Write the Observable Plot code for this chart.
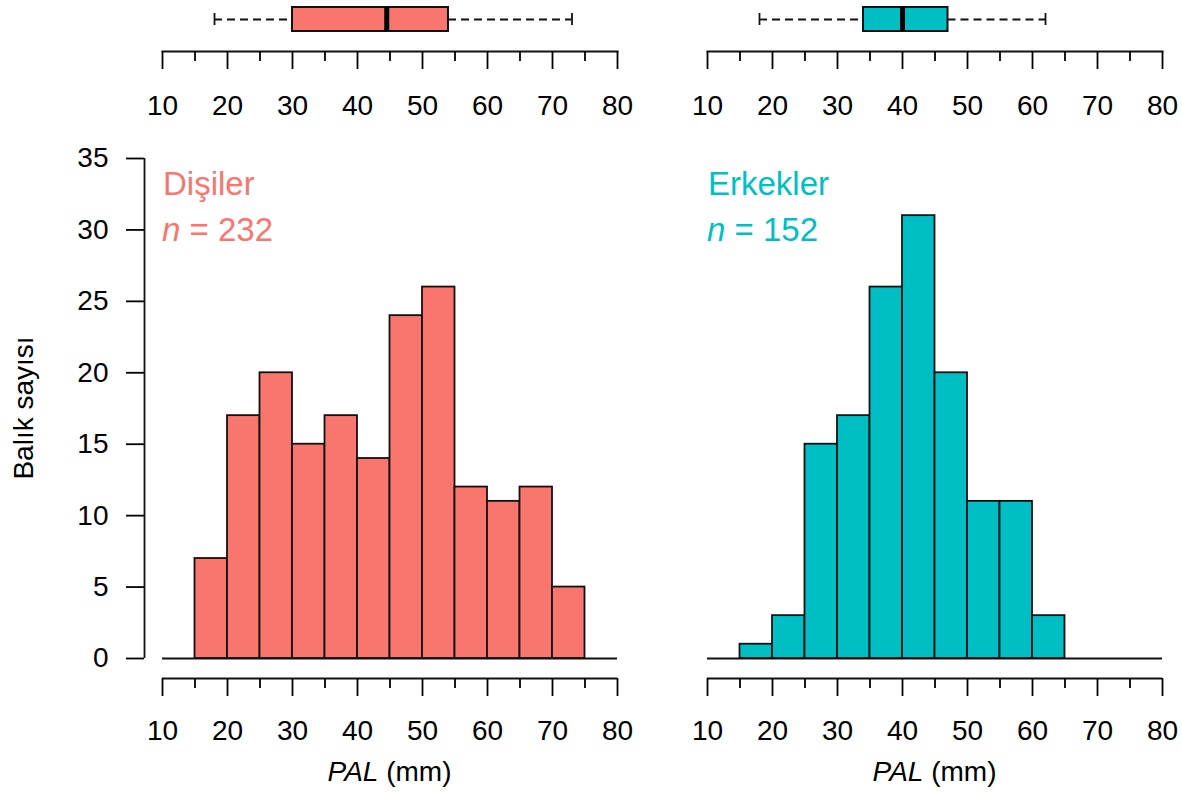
<!DOCTYPE html>
<html><head><meta charset="utf-8">
<script src="https://cdn.jsdelivr.net/npm/d3@7"></script>
<script src="https://cdn.jsdelivr.net/npm/@observablehq/plot@0.6"></script>
<style>
body{margin:0;background:#fff;overflow:hidden}
#chart{position:relative;width:1182px;height:793px;font-family:"Liberation Sans",Arial,sans-serif}
#chart svg{position:absolute;overflow:visible}
</style></head><body><div id="chart"></div>
<script>
// ---- data ----
const xMajorTicks = [10, 20, 30, 40, 50, 60, 70, 80];
const xMinorTicks = [15, 25, 35, 45, 55, 65, 75];
const yTicks = [0, 5, 10, 15, 20, 25, 30, 35];
const femaleBreaks = [15, 20, 25, 30, 35, 40, 45, 50, 55, 60, 65, 70, 75];
const femaleCounts = [7, 17, 20, 15, 17, 14, 24, 26, 12, 11, 12, 5];
const maleBreaks = [15, 20, 25, 30, 35, 40, 45, 50, 55, 60, 65];
const maleCounts = [1, 3, 15, 17, 26, 31, 20, 11, 11, 3];
// min whisker, Q1, median, Q3, max whisker
const femaleBox = [18, 30, 44.5, 54, 73];
const maleBox = [18, 34, 40, 47, 62];
const groupNames = ["Dişiler", "Erkekler"];
const groupN = [232, 152];
const groupColors = ["#F8766D", "#00BFC4"];
const xTitle = ["PAL", " (mm)"];
const yTitle = "Balık sayısı";

// ---- layout ----
const FONT = '"Liberation Sans", Arial, sans-serif';
const panelLeft = [0, 545];
const W = 637, MR = 20;
const TOP_H = 130, BOT_TOP = 130, BOT_H = 663;
const SW = 1.8;
const container = document.getElementById("chart");
const xDomain = [xMajorTicks[0], xMajorTicks[xMajorTicks.length - 1]];

function bins(breaks, counts) {
  return counts.map((c, i) => ({x1: breaks[i], x2: breaks[i + 1], count: c})).filter(d => d.count > 0);
}

function topPlot(box, color) {
  const row = {g: "box", min: box[0], q1: box[1], med: box[2], q3: box[3], max: box[4]};
  return Plot.plot({
    width: W, height: TOP_H,
    marginLeft: 162, marginRight: MR, marginTop: 7, marginBottom: 79, insetBottom: 20,
    style: {fontFamily: FONT, fontSize: "28px", color: "black", background: "transparent", overflow: "visible"},
    x: {domain: xDomain},
    y: {type: "band", domain: ["box"], padding: 0, axis: null},
    marks: [
      Plot.ruleY([row], {y: "g", x1: "min", x2: "q1", stroke: "#111", strokeWidth: SW, strokeDasharray: "8,5"}),
      Plot.ruleY([row], {y: "g", x1: "q3", x2: "max", stroke: "#111", strokeWidth: SW, strokeDasharray: "8,5"}),
      Plot.tickX([row.min, row.max], {x: d => d, y: () => "box", stroke: "#111", strokeWidth: SW, insetTop: 6, insetBottom: 6}),
      Plot.barX([row], {y: "g", x1: "q1", x2: "q3", fill: color, stroke: "#111", strokeWidth: 2}),
      Plot.tickX([row], {x: "med", y: "g", stroke: "black", strokeWidth: 5}),
      Plot.frame({anchor: "bottom", stroke: "#111", strokeWidth: SW}),
      Plot.axisX({ticks: xMajorTicks, tickSize: 18, tickPadding: 26, fontSize: 28, strokeWidth: SW, label: null}),
      Plot.axisX({ticks: xMinorTicks, tickSize: 10, tickFormat: () => "", strokeWidth: SW, label: null})
    ]
  });
}

function bottomPlot(breaks, counts, color, withY) {
  const data = bins(breaks, counts);
  const marks = [
    Plot.ruleY([0], {x1: xDomain[0], x2: xDomain[1], stroke: "#111", strokeWidth: SW}),
    Plot.rectY(data, {x1: "x1", x2: "x2", y: "count", fill: color, stroke: "#111", strokeWidth: SW}),
    Plot.ruleY([0], {x1: xDomain[0], x2: xDomain[1], dy: 20, stroke: "#111", strokeWidth: SW}),
    Plot.axisX({ticks: xMajorTicks, tickSize: 18, tickPadding: 24, fontSize: 28, strokeWidth: SW, label: null}),
    Plot.axisX({ticks: xMinorTicks, tickSize: 10, tickFormat: () => "", strokeWidth: SW, label: null})
  ];
  if (withY) {
    marks.push(
      Plot.ruleX([xDomain[0]], {y1: yTicks[0], y2: yTicks[yTicks.length - 1], dx: -18, stroke: "#111", strokeWidth: SW}),
      Plot.axisY({ticks: yTicks, tickSize: 18, tickPadding: 18, fontSize: 28, strokeWidth: SW, label: null})
    );
  }
  return Plot.plot({
    width: W, height: BOT_H,
    marginLeft: 144, insetLeft: 18, marginRight: MR, marginTop: 28, marginBottom: 115, insetBottom: 20,
    style: {fontFamily: FONT, fontSize: "28px", color: "black", background: "transparent", overflow: "visible"},
    x: {domain: xDomain},
    y: {domain: [yTicks[0], yTicks[yTicks.length - 1]], axis: withY ? undefined : null},
    marks
  });
}

function place(svg, left, top) {
  svg.style.left = left + "px";
  svg.style.top = top + "px";
  container.appendChild(svg);
}

const panels = [
  {box: femaleBox, breaks: femaleBreaks, counts: femaleCounts},
  {box: maleBox, breaks: maleBreaks, counts: maleCounts}
];

panels.forEach((p, i) => {
  const color = groupColors[i];
  place(topPlot(p.box, color), panelLeft[i], 0);
  const bp = bottomPlot(p.breaks, p.counts, color, i === 0);
  place(bp, panelLeft[i], BOT_TOP);
  const sx = bp.scale("x"), sy = bp.scale("y");
  const svg = d3.select(bp);
  const x0 = sx.apply(xDomain[0]);
  const yTop = sy.apply(yTicks[yTicks.length - 1]);
  // group label + n
  svg.append("text").attr("x", x0 + 1).attr("y", yTop + 37)
    .attr("text-anchor", "start")
    .attr("fill", color).attr("font-size", 33).attr("font-family", FONT)
    .text(groupNames[i]);
  const t = svg.append("text").attr("x", x0).attr("y", yTop + 83)
    .attr("text-anchor", "start")
    .attr("fill", color).attr("font-size", 33).attr("font-family", FONT);
  t.append("tspan").attr("font-style", "italic").text("n");
  t.append("tspan").text(" = " + groupN[i]);
  // x title
  const xt = svg.append("text").attr("x", (sx.apply(xDomain[0]) + sx.apply(xDomain[1])) / 2)
    .attr("y", BOT_H - 12).attr("text-anchor", "middle")
    .attr("font-size", 28).attr("font-family", FONT).attr("fill", "black");
  xt.append("tspan").attr("font-style", "italic").text(xTitle[0]);
  xt.append("tspan").text(xTitle[1]);
  if (i === 0) {
    const yMid = (sy.apply(yTicks[0]) + sy.apply(yTicks[yTicks.length - 1])) / 2;
    svg.append("text").attr("transform", `translate(33,${yMid}) rotate(-90)`)
      .attr("text-anchor", "middle").attr("font-size", 28).attr("font-family", FONT)
      .attr("fill", "black").text(yTitle);
  }
});
</script></body></html>
